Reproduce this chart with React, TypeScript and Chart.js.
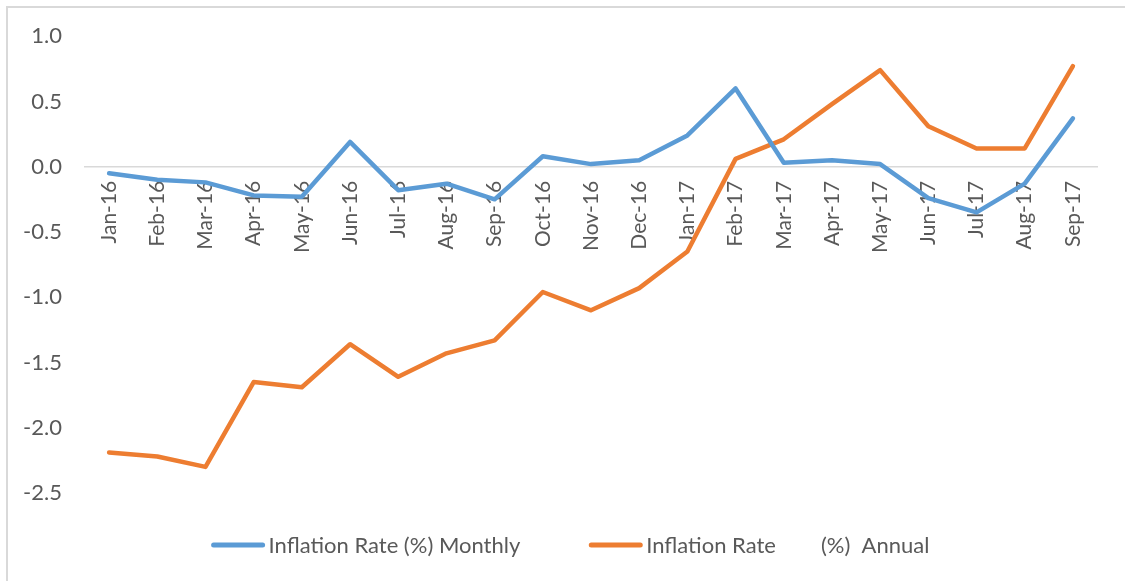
import React, { useEffect, useRef } from 'react';
import { Chart, registerables } from 'chart.js';

Chart.register(...registerables);

const categories = [
  'Jan-16', 'Feb-16', 'Mar-16', 'Apr-16', 'May-16', 'Jun-16', 'Jul-16', 'Aug-16', 'Sep-16',
  'Oct-16', 'Nov-16', 'Dec-16', 'Jan-17', 'Feb-17', 'Mar-17', 'Apr-17', 'May-17', 'Jun-17',
  'Jul-17', 'Aug-17', 'Sep-17',
];
const monthlyRate = [
  -0.05, -0.10, -0.12, -0.22, -0.23, 0.19, -0.18, -0.13, -0.25,
  0.08, 0.02, 0.05, 0.24, 0.60, 0.03, 0.05, 0.02, -0.24,
  -0.35, -0.13, 0.37,
];
const annualRate = [
  -2.19, -2.22, -2.30, -1.65, -1.69, -1.36, -1.61, -1.43, -1.33,
  -0.96, -1.10, -0.93, -0.65, 0.06, 0.21, 0.48, 0.74, 0.31,
  0.14, 0.14, 0.77,
];
const yTicks = [1.0, 0.5, 0.0, -0.5, -1.0, -1.5, -2.0, -2.5];
const seriesLabels = ['Inflation Rate (%) Monthly', 'Inflation Rate        (%)  Annual'];
const seriesColors = ['#5B9BD5', '#ED7D31'];

const FONT = 'Lato, "Open Sans", sans-serif';
const TEXT = '#595959';

const framePlugin = {
  id: 'frame',
  beforeDraw(chart: any) {
    const ctx = chart.ctx;
    ctx.save();
    ctx.strokeStyle = '#d9d9d9';
    ctx.lineWidth = 2;
    ctx.beginPath();
    ctx.moveTo(7, chart.height);
    ctx.lineTo(7, 7);
    ctx.lineTo(chart.width, 7);
    ctx.stroke();
    ctx.restore();
  },
};

const legendPlugin = {
  id: 'customLegend',
  afterDraw(chart: any) {
    const ctx = chart.ctx;
    const lineLen = 53;
    const gapText = 4;
    const itemGap = 69;
    ctx.save();
    ctx.font = `22px ${FONT}`;
    const items = chart.data.datasets.map((d: any) => ({
      text: d.label,
      color: d.borderColor,
      w: ctx.measureText(d.label).width,
    }));
    const total = items.reduce((s: number, it: any) => s + lineLen + gapText + it.w, 0) + itemGap * (items.length - 1);
    let x = chart.width / 2 + 8 - total / 2;
    const y = 545;
    items.forEach((it: any) => {
      ctx.strokeStyle = it.color;
      ctx.lineWidth = 5;
      ctx.lineCap = 'round';
      ctx.beginPath();
      ctx.moveTo(x + 2, y);
      ctx.lineTo(x + lineLen - 2, y);
      ctx.stroke();
      ctx.fillStyle = TEXT;
      ctx.textBaseline = 'middle';
      ctx.textAlign = 'left';
      ctx.fillText(it.text, x + lineLen + gapText, y + 1);
      x += lineLen + gapText + it.w + itemGap;
    });
    ctx.restore();
  },
};

export default function App() {
  const canvasRef = useRef<HTMLCanvasElement | null>(null);

  useEffect(() => {
    if (!canvasRef.current) return;
    const chart = new Chart(canvasRef.current, {
      type: 'line',
      data: {
        labels: categories,
        datasets: [
          {
            label: seriesLabels[0],
            data: monthlyRate,
            borderColor: seriesColors[0],
            backgroundColor: seriesColors[0],
            borderWidth: 4.5,
            pointRadius: 0,
            tension: 0,
            borderCapStyle: 'round',
            borderJoinStyle: 'round',
          },
          {
            label: seriesLabels[1],
            data: annualRate,
            borderColor: seriesColors[1],
            backgroundColor: seriesColors[1],
            borderWidth: 4.5,
            pointRadius: 0,
            tension: 0,
            borderCapStyle: 'round',
            borderJoinStyle: 'round',
          },
        ],
      },
      options: {
        animation: false,
        responsive: true,
        maintainAspectRatio: false,
        layout: { padding: { top: 36, bottom: 88, left: 0, right: 28 } },
        plugins: {
          legend: { display: false },
          tooltip: { enabled: false },
        },
        scales: {
          x: {
            type: 'category',
            position: { y: 0 },
            offset: true,
            grid: { display: false, drawTicks: false },
            border: { display: true, color: '#d9d9d9', width: 1.5 },
            ticks: {
              autoSkip: false,
              maxRotation: 90,
              minRotation: 90,
              padding: 14,
              color: TEXT,
              font: { family: FONT, size: 21 },
            },
            afterFit: (s: any) => {
              s.height = 0;
            },
          },
          y: {
            min: -2.5,
            max: 1.0,
            grid: { display: false, drawTicks: false },
            border: { display: false },
            ticks: {
              padding: 23,
              color: TEXT,
              font: { family: FONT, size: 22 },
              callback: (v: any) => Number(v).toFixed(1),
            },
            afterBuildTicks: (s: any) => {
              s.ticks = yTicks.map((v) => ({ value: v }));
            },
            afterFit: (s: any) => {
              s.width = 85;
            },
          },
        },
      },
      plugins: [framePlugin, legendPlugin],
    });
    return () => chart.destroy();
  }, []);

  return (
    <div style={{ position: 'absolute', left: 0, top: 0, width: 1125, height: 581, background: '#fff' }}>
      <canvas ref={canvasRef} />
    </div>
  );
}
